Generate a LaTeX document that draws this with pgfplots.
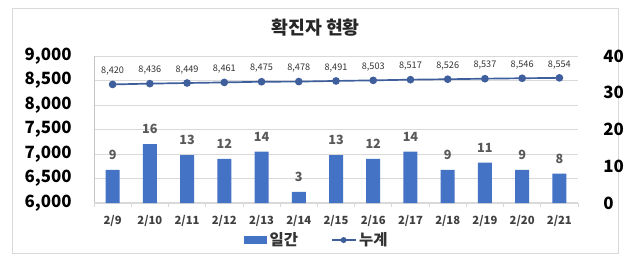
\documentclass[border=0pt]{standalone}
\usepackage{pgfplots}
\pgfplotsset{compat=1.18}
\usepackage{fontspec}
\setmainfont{Noto Sans CJK KR}
\definecolor{barblue}{HTML}{4472C4}
\definecolor{linecol}{HTML}{3E5E9C}
\definecolor{gridc}{HTML}{D9D9D9}
\definecolor{txtgray}{HTML}{595959}
\begin{document}
\begin{tikzpicture}
\path[use as bounding box, fill=white] (-2.35,-1.55) rectangle (13.65,5.075);
\draw[gridc, line width=0.6pt] (-2.05,-1.25) rectangle (13.1,4.875);
\node[font=\fontsize{13}{15}\selectfont\bfseries, text=black!85] at (5.54,4.375) {확진자 현황};

\begin{axis}[
  scale only axis, width=12.1cm, height=3.675cm,
  at={(0,0)}, anchor=south west,
  xmin=-0.5, xmax=12.5, ymin=6000, ymax=9000,
  ytick={6000,6500,...,9000},
  xtick=\empty,
  axis x line=none,
  axis y line*=left,
  y axis line style={draw=gray!45, -},
  ymajorgrids, grid style={gridc, line width=0.6pt},
  ytick style={draw=none},
  scaled y ticks=false,
  /pgf/number format/assume math mode=true,
  /pgf/number format/1000 sep={,},
  yticklabel style={font=\fontsize{12}{14}\selectfont\bfseries, anchor=east, inner sep=0pt, xshift=-0.55cm},
  clip=false,
]
\addplot[linecol, line width=1.2pt, mark=*, mark size=2.1pt,
  mark options={fill=linecol, draw=linecol},
  point meta=y, nodes near coords,
  every node near coord/.append style={font=\fontsize{6.5}{7}\selectfont, text=black!80, anchor=center, yshift=0.33cm}]
  coordinates {(0,8420) (1,8436) (2,8449) (3,8461) (4,8475) (5,8478) (6,8491) (7,8503) (8,8517) (9,8526) (10,8537) (11,8546) (12,8554)};
\end{axis}

\begin{axis}[
  scale only axis, width=12.1cm, height=3.675cm,
  at={(0,0)}, anchor=south west,
  xmin=-0.5, xmax=12.5, ymin=0, ymax=40,
  ytick={0,10,...,40},
  axis y line*=right, y axis line style={draw=none},
  axis x line*=bottom, x axis line style={draw=gridc, line width=0.8pt, -},
  xtick={0,...,12},
  xticklabels={2/9,2/10,2/11,2/12,2/13,2/14,2/15,2/16,2/17,2/18,2/19,2/20,2/21},
  major x tick style={draw=none},
  minor xtick={-0.5,0.5,...,12.5},
  minor x tick style={draw=gridc, line width=0.6pt},
  minor tick length=0.1cm, tick align=outside,
  ytick style={draw=none},
  /pgf/number format/assume math mode=true,
  xticklabel style={font=\fontsize{8}{10}\selectfont\bfseries, text=black!75, anchor=center, yshift=-0.3cm},
  yticklabel style={font=\fontsize{12}{14}\selectfont\bfseries, anchor=west, inner sep=0pt, xshift=0.475cm},
  bar width=0.35cm,
  clip=false,
  legend style={at={(0.461,-0.252)}, anchor=center, draw=none, fill=none,
    legend columns=2, font=\fontsize{11}{13}\selectfont\bfseries, text=black!80,
    /tikz/every even column/.append style={column sep=0.75cm}},
]
\addplot[ybar, fill=barblue, draw=none,
  nodes near coords,
  every node near coord/.append style={font=\fontsize{9}{10}\selectfont\bfseries, text=txtgray, anchor=center, yshift=0.375cm},
  legend image code/.code={\fill[barblue] (0cm,-0.1cm) rectangle (0.575cm,0.1cm);}]
  coordinates {(0,9) (1,16) (2,13) (3,12) (4,14) (5,3) (6,13) (7,12) (8,14) (9,9) (10,11) (11,9) (12,8)};
\addlegendentry{일간}
\addlegendimage{line legend, linecol, line width=1pt, mark=*, mark size=1.6pt, mark options={fill=linecol, draw=linecol}}
\addlegendentry{누계}
\end{axis}
\end{tikzpicture}
\end{document}
